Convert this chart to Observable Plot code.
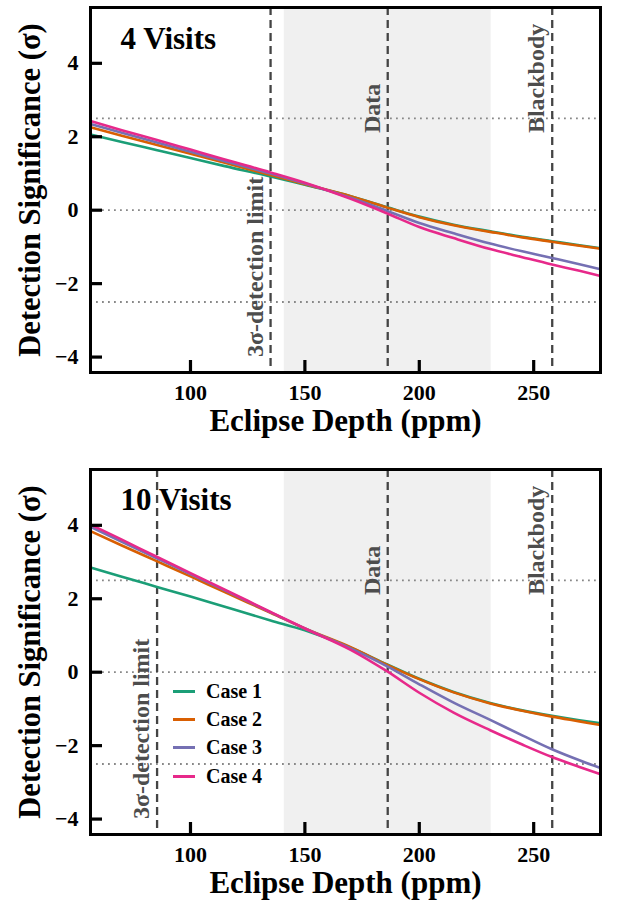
<!DOCTYPE html>
<html>
<head>
<meta charset="utf-8">
<script src="https://cdn.jsdelivr.net/npm/d3@7"></script>
<script src="https://cdn.jsdelivr.net/npm/@observablehq/plot@0.6"></script>
<style>
  body { margin: 0; background: #fff; }
  #wrap { position: relative; width: 617px; height: 901px; overflow: hidden; }
  .panel { position: absolute; left: 0; }
  .legend { position: absolute; font-family: "Liberation Serif", "Times New Roman", serif; font-weight: bold; font-size: 20px; color: #000; }
  .legend .row { display: flex; align-items: center; height: 28.4px; }
  .legend .sw { width: 22px; height: 3px; margin-right: 11px; }
</style>
</head>
<body>
<div id="wrap"></div>
<script>
// ---------- data ----------
const cases = ["Case 1", "Case 2", "Case 3", "Case 4"];
const colors = ["#1b9e77", "#d95f02", "#7570b3", "#e7298a"];
const depth = [56.3, 70, 85, 100, 115, 135, 150, 170, 186, 200, 215, 231, 245, 258, 270, 279.2];

// 4 visits
const v4Case1 = [2.06, 1.86, 1.64, 1.42, 1.20, 0.92, 0.69, 0.38, 0.08, -0.175, -0.395, -0.575, -0.725, -0.845, -0.955, -1.035];
const v4Case2 = [2.26, 2.03, 1.78, 1.54, 1.29, 0.96, 0.71, 0.38, 0.07, -0.19, -0.41, -0.59, -0.74, -0.86, -0.97, -1.05];
const v4Case3 = [2.35, 2.11, 1.85, 1.59, 1.33, 1.00, 0.73, 0.34, -0.02, -0.35, -0.63, -0.91, -1.12, -1.30, -1.47, -1.61];
const v4Case4 = [2.43, 2.18, 1.92, 1.65, 1.38, 1.03, 0.75, 0.31, -0.09, -0.46, -0.76, -1.06, -1.28, -1.48, -1.65, -1.79];

// 10 visits
const v10Case1 = [2.85, 2.60, 2.33, 2.06, 1.78, 1.41, 1.14, 0.67, 0.21, -0.18, -0.54, -0.84, -1.04, -1.19, -1.31, -1.39];
const v10Case2 = [3.84, 3.45, 3.03, 2.61, 2.18, 1.62, 1.19, 0.68, 0.20, -0.19, -0.55, -0.85, -1.05, -1.21, -1.34, -1.44];
const v10Case3 = [3.96, 3.55, 3.11, 2.67, 2.23, 1.63, 1.19, 0.65, 0.16, -0.33, -0.83, -1.30, -1.72, -2.10, -2.40, -2.61];
const v10Case4 = [4.02, 3.61, 3.15, 2.70, 2.25, 1.64, 1.19, 0.61, 0.02, -0.56, -1.10, -1.58, -1.97, -2.31, -2.58, -2.78];

const shadeRange = [141, 231.4];
const dataDepth = 186.2;
const blackbodyDepth = 258.1;
const limit4 = 135;
const limit10 = 85.4;
const refLevels = [2.5, 0, -2.5];
const xTicks = [100, 150, 200, 250];
const yTicks = [-4, -2, 0, 2, 4];
const xDomain = [56.3, 279.2];
const yDomain = [-4.42, 5.52];
const titles = ["4 Visits", "10 Visits"];
const labelYStart = 2.1;
const limitYStart = -4.0;

const FONT = '"Liberation Serif", "Times New Roman", serif';
const W = 617, H = 440, ML = 90, MR = 17, MT = 7, MB = 68;
const frameW = W - ML - MR, frameH = H - MT - MB, TICK = 12;
// inward tick length expressed in data units (derived from the scale spans)
const xTickLen = TICK / frameW * (xDomain[1] - xDomain[0]);
const yTickLen = TICK / frameH * (yDomain[1] - yDomain[0]);

function makePanel(title, series, limit, titleDy) {
  const rows = [];
  series.forEach((vals, i) => vals.forEach((v, j) => rows.push({depth: depth[j], sig: v, c: cases[i]})));
  const vlines = [
    {x: limit, label: "3σ-detection limit", y: limitYStart},
    {x: dataDepth, label: "Data", y: labelYStart},
    {x: blackbodyDepth, label: "Blackbody", y: labelYStart}
  ];
  return Plot.plot({
    width: W, height: H,
    marginLeft: ML, marginRight: MR, marginTop: MT, marginBottom: MB,
    style: {fontFamily: FONT, fontWeight: "bold", fontSize: "22px", background: "transparent", color: "#000", overflow: "visible"},
    x: {domain: xDomain, ticks: xTicks, tickSize: 0, tickPadding: 12, label: null},
    y: {domain: yDomain, ticks: yTicks, tickSize: 0, tickPadding: 12, label: null},
    color: {domain: cases, range: colors},
    marks: [
      Plot.rect([shadeRange], {x1: d => d[0], x2: d => d[1], y1: () => yDomain[0], y2: () => yDomain[1], fill: "#f0f0f0"}),
      Plot.ruleY(refLevels, {stroke: "#888", strokeWidth: 1.8, strokeDasharray: "1.8,4.2"}),
      Plot.ruleX(vlines, {x: "x", stroke: "#444", strokeWidth: 2.3, strokeDasharray: "8,5"}),
      Plot.text(vlines, {x: "x", y: "y", text: "label", rotate: -90, textAnchor: "start", lineAnchor: "bottom", dx: -8, fill: "#4d4d4d", fontSize: 24, fontWeight: "bold"}),
      Plot.line(rows, {x: "depth", y: "sig", z: "c", stroke: "c", strokeWidth: 2.6, curve: "monotone-x"}),
      Plot.ruleX(xTicks, {x: d => d, y1: () => yDomain[0], y2: () => yDomain[0] + yTickLen, stroke: "#000", strokeWidth: 3.2}),
      Plot.ruleY(yTicks, {y: d => d, x1: () => xDomain[0], x2: () => xDomain[0] + xTickLen, stroke: "#000", strokeWidth: 3.2}),
      Plot.text([title], {frameAnchor: "top-left", dx: 30, dy: titleDy, textAnchor: "start", lineAnchor: "top", fontSize: 31, fontWeight: "bold", fill: "#000"}),
      Plot.text(["Detection Significance (σ)"], {frameAnchor: "left", dx: -60, rotate: -90, textAnchor: "middle", lineAnchor: "middle", fontSize: 30.5, fontWeight: "bold", fill: "#000"}),
      Plot.text(["Eclipse Depth (ppm)"], {frameAnchor: "bottom", dy: 49, textAnchor: "middle", lineAnchor: "middle", fontSize: 31, fontWeight: "bold", fill: "#000"}),
      Plot.frame({stroke: "#000", strokeWidth: 3})
    ]
  });
}

const wrap = document.getElementById("wrap");
const p1 = makePanel(titles[0], [v4Case1, v4Case2, v4Case3, v4Case4], limit4, 19);
p1.classList.add("panel"); p1.style.top = "0px";
wrap.appendChild(p1);
const p2 = makePanel(titles[1], [v10Case1, v10Case2, v10Case3, v10Case4], limit10, 18);
p2.classList.add("panel"); p2.style.top = "462px";
wrap.appendChild(p2);

// legend (bottom panel)
const leg = document.createElement("div");
leg.className = "legend";
leg.style.left = "173px";
leg.style.top = "677px";
cases.forEach((c, i) => {
  const row = document.createElement("div");
  row.className = "row";
  const sw = document.createElement("span");
  sw.className = "sw";
  sw.style.background = colors[i];
  const t = document.createElement("span");
  t.textContent = c;
  row.appendChild(sw); row.appendChild(t);
  leg.appendChild(row);
});
wrap.appendChild(leg);
</script>
</body>
</html>
